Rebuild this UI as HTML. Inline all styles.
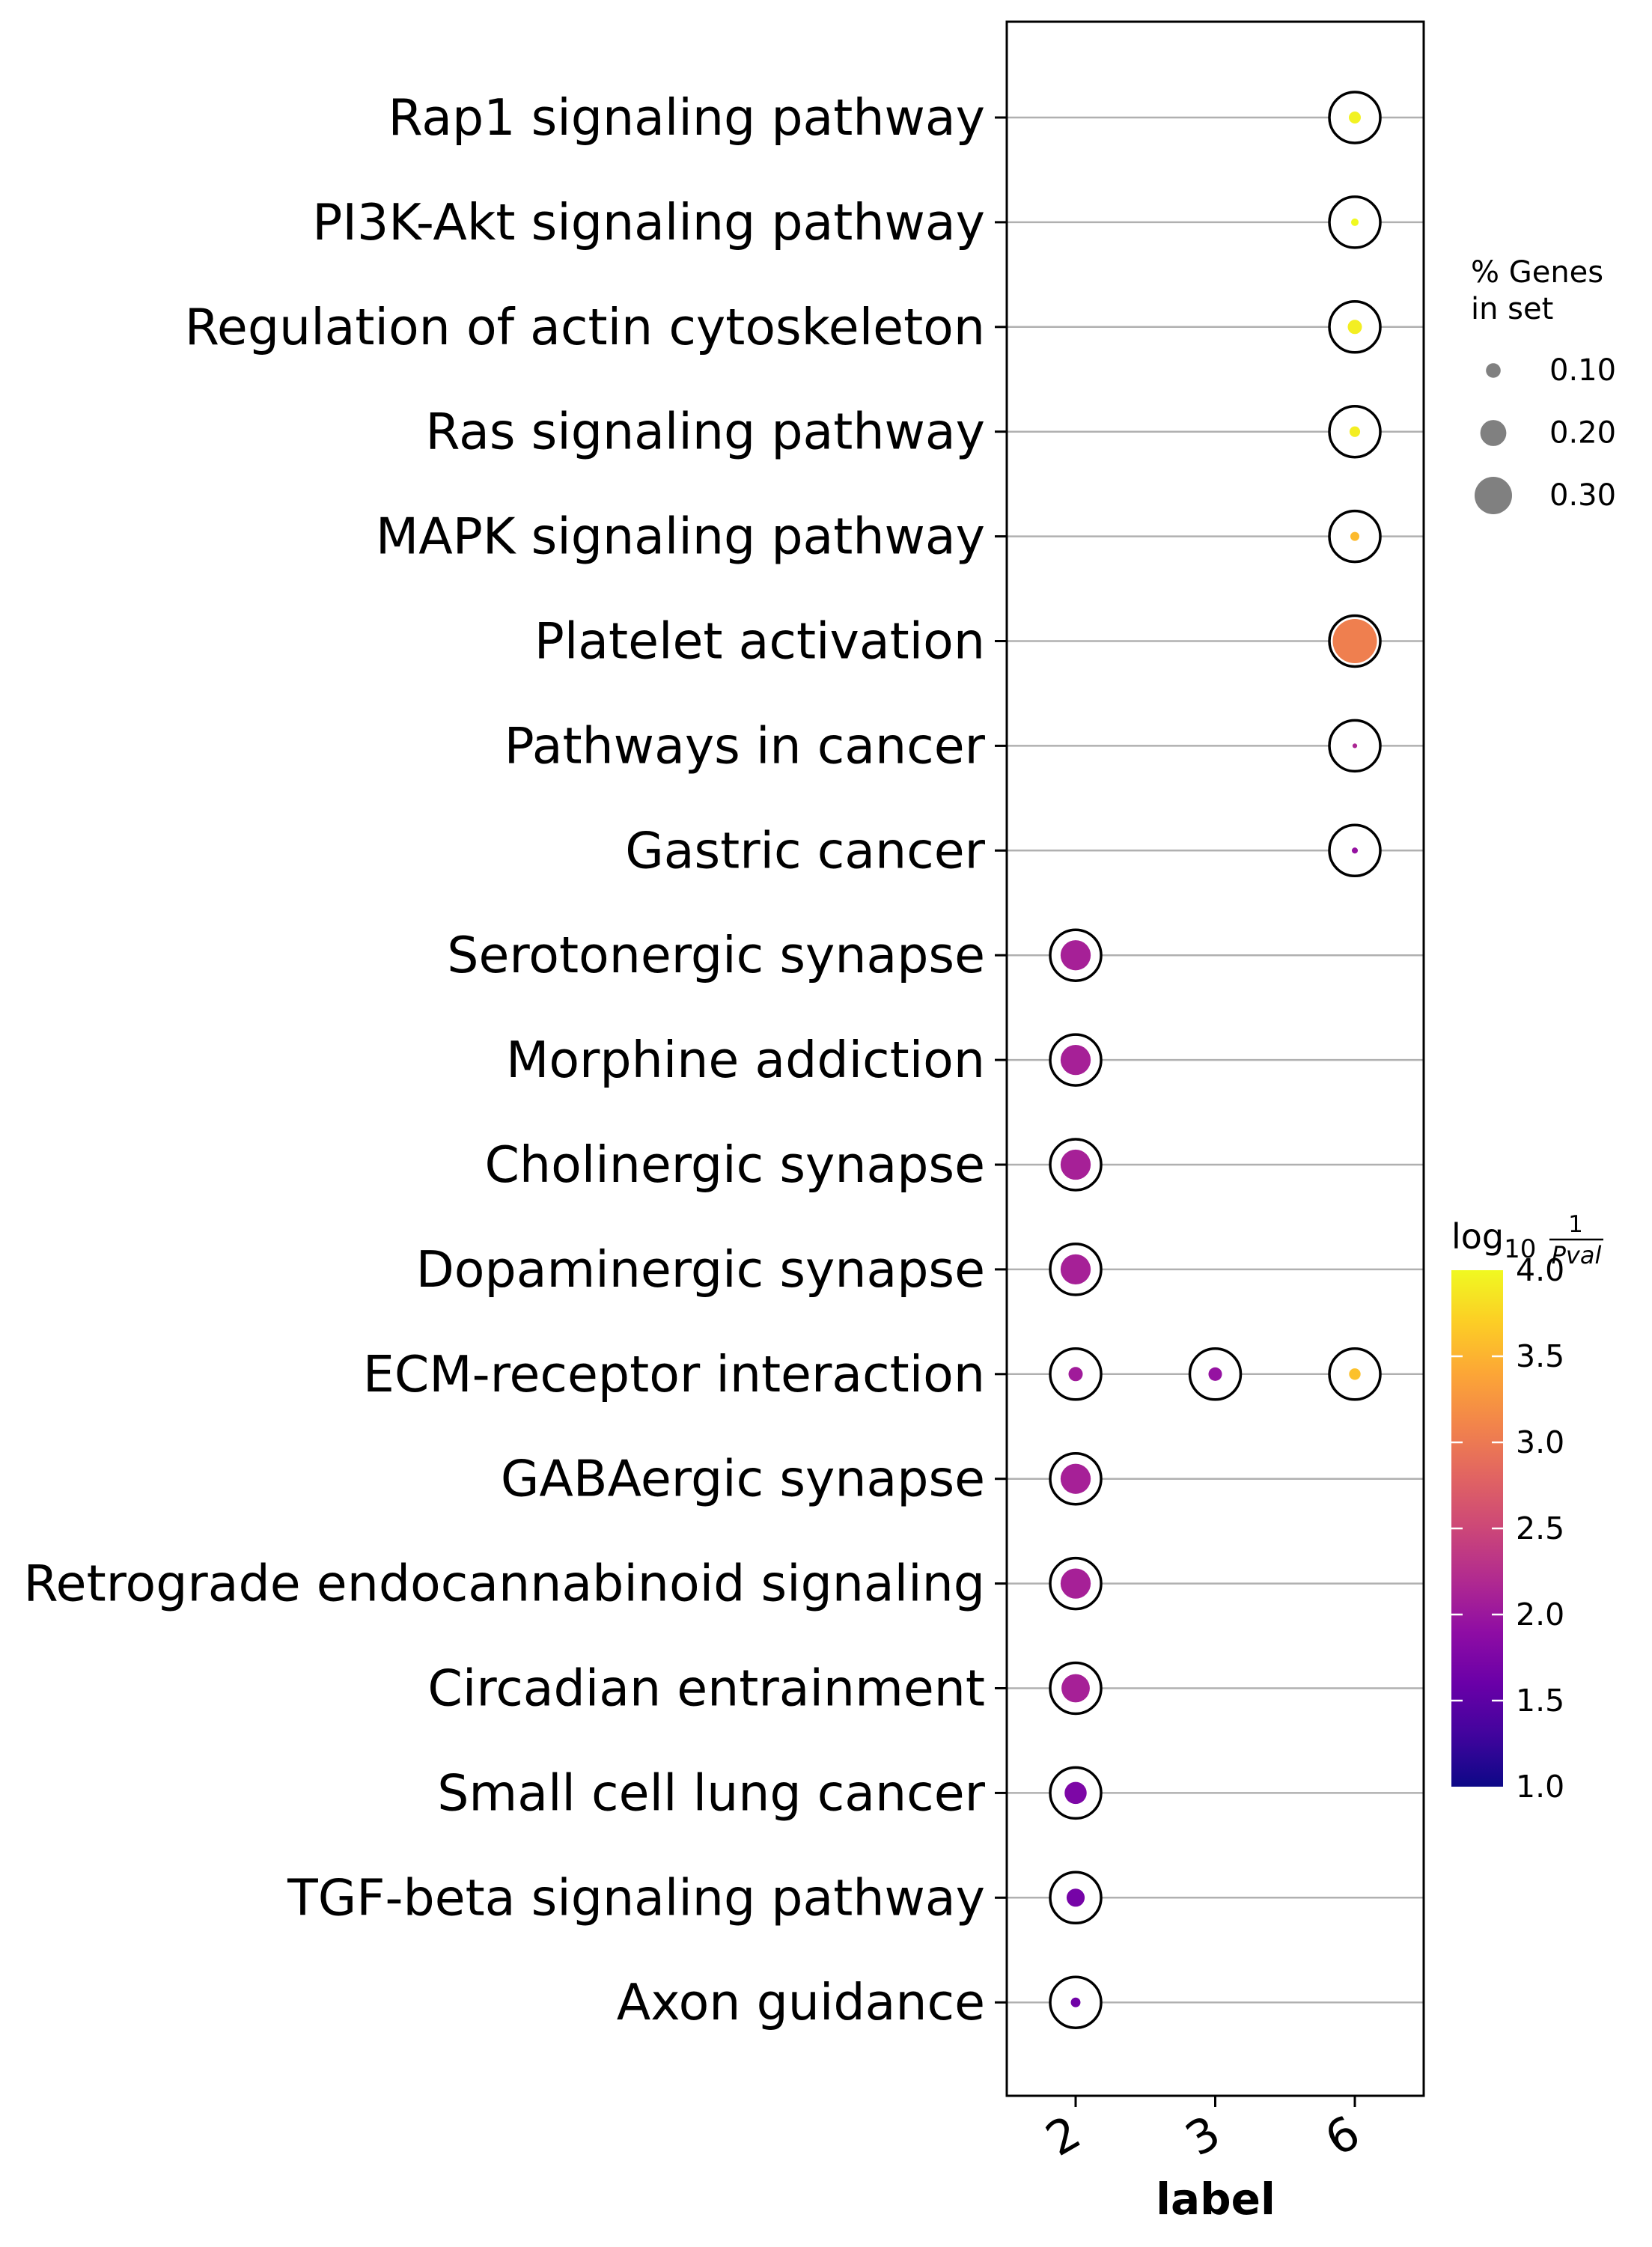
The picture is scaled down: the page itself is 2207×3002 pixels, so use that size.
<!DOCTYPE html>
<html><head><meta charset="utf-8"><style>
html,body{margin:0;padding:0;background:#fff}
svg{display:block;font-family:"DejaVu Sans","Liberation Sans",sans-serif}
</style></head><body>
<svg id="chart" width="2207" height="3002" viewBox="0 0 2207 3002" xmlns="http://www.w3.org/2000/svg">
<defs>
<linearGradient id="plasma" x1="0" y1="1" x2="0" y2="0">
<stop offset="0" stop-color="#0d0887"/><stop offset="0.1" stop-color="#41049d"/><stop offset="0.2" stop-color="#6a00a8"/><stop offset="0.3" stop-color="#8f0da4"/><stop offset="0.4" stop-color="#b12a90"/><stop offset="0.5" stop-color="#cc4778"/><stop offset="0.6" stop-color="#e16462"/><stop offset="0.7" stop-color="#f2844b"/><stop offset="0.8" stop-color="#fca636"/><stop offset="0.9" stop-color="#fcce25"/><stop offset="1" stop-color="#f0f921"/>
</linearGradient>
</defs>
<g id="grid"></g>
<g id="marks"></g>
<rect x="1345" y="29" width="557" height="2771" fill="none" stroke="#000" stroke-width="3"/>
<g id="yticks"></g>
<g id="xticks"></g>
<text x="1624" y="2958" font-size="58" font-weight="bold" text-anchor="middle">label</text>
<g>
<text x="1965" y="377" font-size="40">% Genes</text>
<text x="1965" y="426" font-size="40">in set</text>
<g id="sizeleg"></g>
</g>
<g>
<rect x="1939" y="1697" width="69" height="690" fill="url(#plasma)"/>
<g id="cbticks"></g>
<text x="1939" y="1668" font-size="46">log<tspan font-size="34" dy="12">10</tspan></text>
<text x="2105" y="1646" font-size="31" text-anchor="middle">1</text>
<line x1="2070" y1="1656" x2="2142" y2="1656" stroke="#000" stroke-width="2.5"/>
<text x="2106" y="1688" font-size="32" font-style="italic" text-anchor="middle">Pval</text>
</g>
</svg>
<script>
const pathways = ["Rap1 signaling pathway","PI3K-Akt signaling pathway","Regulation of actin cytoskeleton","Ras signaling pathway","MAPK signaling pathway","Platelet activation","Pathways in cancer","Gastric cancer","Serotonergic synapse","Morphine addiction","Cholinergic synapse","Dopaminergic synapse","ECM-receptor interaction","GABAergic synapse","Retrograde endocannabinoid signaling","Circadian entrainment","Small cell lung cancer","TGF-beta signaling pathway","Axon guidance"];
const clusters = ["2","3","6"];
const pointRow = [0,1,2,3,4,5,6,7,8,9,10,11,12,12,12,13,14,15,16,17,18];
const pointCluster = ["6","6","6","6","6","6","6","6","2","2","2","2","2","3","6","2","2","2","2","2","2"];
const pointGenes = [0.076,0.037,0.096,0.064,0.05,0.36,0.012,0.024,0.236,0.236,0.236,0.236,0.096,0.09,0.072,0.236,0.236,0.22,0.165,0.13,0.056];
const pointLogP = [3.95,4.0,3.92,3.92,3.55,3.05,2.15,1.95,2.1,2.1,2.1,2.1,2.05,1.95,3.6,2.1,2.1,2.1,1.75,1.7,1.65];
const legendValues = [0.10,0.20,0.30];
const legendLabels = ["0.10","0.20","0.30"];
const cbTicks = [1.0,1.5,2.0,2.5,3.0,3.5,4.0];
const cbTickLabels = ["1.0","1.5","2.0","2.5","3.0","3.5","4.0"];

const NS="http://www.w3.org/2000/svg";
function mk(tag,attrs,parent){const e=document.createElementNS(NS,tag);for(const k in attrs)e.setAttribute(k,attrs[k]);parent.appendChild(e);return e;}
const yScale=i=>157+i*139.9;
const xScale=c=>1437+clusters.indexOf(c)*186.5;
const rScale=v=>2.2+76*v;
const cbY=v=>2387-(v-1)/3*690;
const stops=[[13,8,135],[65,4,157],[106,0,168],[143,13,164],[177,42,144],[204,71,120],[225,100,98],[242,132,75],[252,166,54],[252,206,37],[240,249,33]];
function plasma(v){let t=Math.max(0,Math.min(1,(v-1)/3))*10;const i=Math.min(9,Math.floor(t)),f=t-i;const a=stops[i],b=stops[i+1];return "rgb("+a.map((x,k)=>Math.round(x+(b[k]-x)*f)).join(",")+")";}

const grid=document.getElementById('grid'),yt=document.getElementById('yticks'),xt=document.getElementById('xticks'),marks=document.getElementById('marks');
pathways.forEach((p,i)=>{
  const y=yScale(i);
  const gl=mk('line',{x1:1345,x2:1902,y1:y,y2:y,stroke:'#b0b0b0','stroke-width':2.5},grid);
  
  
  const tk=mk('line',{x1:1329,x2:1345,y1:y,y2:y,stroke:'#000','stroke-width':3},yt);
  
  
  const tx=mk('text',{x:1316,y:y,'font-size':66.5,'text-anchor':'end','dominant-baseline':'central'},yt);
  tx.textContent=p;
  
  
});
clusters.forEach(c=>{
  const x=xScale(c);
  const tk=mk('line',{x1:x,x2:x,y1:2800,y2:2815,stroke:'#000','stroke-width':3},xt);
  
  
  const tx=mk('text',{x:x-12,y:2822,'font-size':62,'text-anchor':'end','dominant-baseline':'hanging',transform:'rotate(-30 '+(x-12)+' 2822)'},xt);
  tx.textContent=c;
  
  
});
pointRow.forEach((r,i)=>{
  const x=xScale(pointCluster[i]),y=yScale(r);
  const o=mk('circle',{cx:x,cy:y,r:34,fill:'#fff',stroke:'#000','stroke-width':3.5},marks);
  
  
  const d=mk('circle',{cx:x,cy:y,r:rScale(pointGenes[i]),fill:plasma(pointLogP[i])},marks);
  
  
});
const sl=document.getElementById('sizeleg');
legendValues.forEach((v,i)=>{
  const y=495+i*83.5;
  const c=mk('circle',{cx:1995,cy:y,r:rScale(v),fill:'#808080'},sl);
  
  
  const t=mk('text',{x:2070,y:y,'font-size':40,'dominant-baseline':'central'},sl);
  t.textContent=legendLabels[i];
  
  
});
const cb=document.getElementById('cbticks');
cbTicks.forEach((v,i)=>{
  const y=cbY(v);
  if(v>1&&v<4){
    const a=mk('line',{x1:1939,x2:1954,y1:y,y2:y,stroke:'#fff','stroke-width':2.5},cb);
    
    
    const b=mk('line',{x1:1993,x2:2008,y1:y,y2:y,stroke:'#fff','stroke-width':2.5},cb);
    
    
  }
  const t=mk('text',{x:2025,y:y,'font-size':41,'dominant-baseline':'central'},cb);
  t.textContent=cbTickLabels[i];
  
  
});
</script>
</body></html>
